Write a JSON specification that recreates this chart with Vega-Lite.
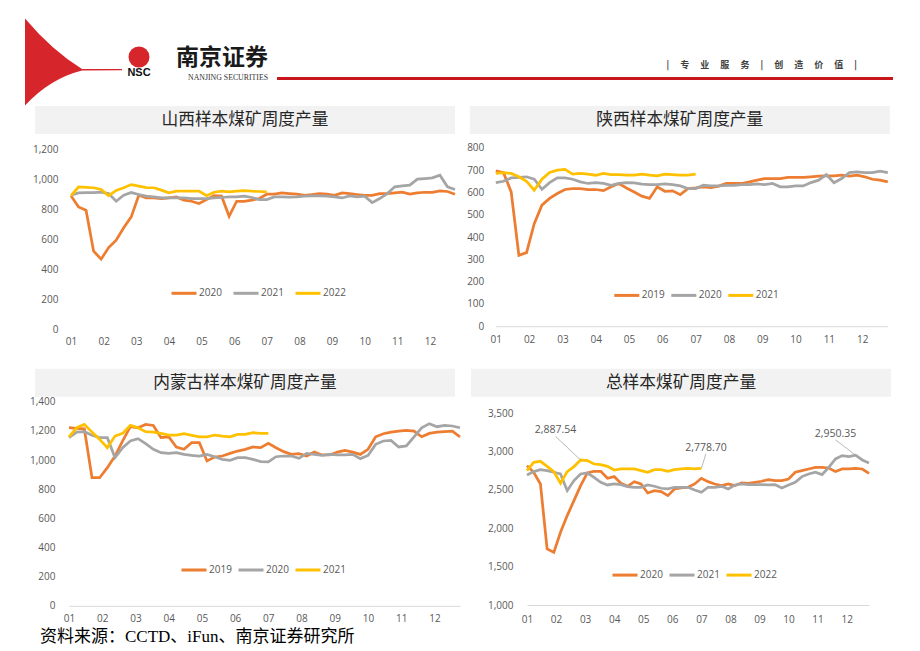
{
"$schema":"https://vega.github.io/schema/vega-lite/v6.json",
"background":"white",
"padding":{"left":25,"top":18,"right":5,"bottom":5},
"config":{
 "view":{"stroke":null},
 "font":"Open Sans",
 "axis":{"labelFont":"Open Sans","labelFontSize":10,"labelColor":"#595959","grid":false,"ticks":false,"tickSize":0,"domain":false},
 "axisX":{"domain":true,"domainColor":"#d9d9d9","domainWidth":1,"labelFlush":false,"labelOverlap":false},
 "legend":{"labelFont":"Open Sans","labelFontSize":10,"labelColor":"#595959","symbolType":"stroke","symbolStrokeWidth":3,"symbolSize":625,"labelOffset":1,"padding":0}
},
"datasets":{
"p1":[
{"w":1,"year":"2020","v":889},{"w":2,"year":"2020","v":815},{"w":3,"year":"2020","v":793},{"w":4,"year":"2020","v":520},{"w":5,"year":"2020","v":467},{"w":6,"year":"2020","v":544},{"w":7,"year":"2020","v":593},{"w":8,"year":"2020","v":676},{"w":9,"year":"2020","v":749},{"w":10,"year":"2020","v":893},{"w":11,"year":"2020","v":876},{"w":12,"year":"2020","v":876},{"w":13,"year":"2020","v":871},{"w":14,"year":"2020","v":876},{"w":15,"year":"2020","v":882},{"w":16,"year":"2020","v":860},{"w":17,"year":"2020","v":853},{"w":18,"year":"2020","v":838},{"w":19,"year":"2020","v":864},{"w":20,"year":"2020","v":891},{"w":21,"year":"2020","v":887},{"w":22,"year":"2020","v":753},{"w":23,"year":"2020","v":853},{"w":24,"year":"2020","v":853},{"w":25,"year":"2020","v":860},{"w":26,"year":"2020","v":871},{"w":27,"year":"2020","v":900},{"w":28,"year":"2020","v":900},{"w":29,"year":"2020","v":909},{"w":30,"year":"2020","v":904},{"w":31,"year":"2020","v":900},{"w":32,"year":"2020","v":893},{"w":33,"year":"2020","v":898},{"w":34,"year":"2020","v":904},{"w":35,"year":"2020","v":900},{"w":36,"year":"2020","v":893},{"w":37,"year":"2020","v":909},{"w":38,"year":"2020","v":904},{"w":39,"year":"2020","v":898},{"w":40,"year":"2020","v":893},{"w":41,"year":"2020","v":893},{"w":42,"year":"2020","v":904},{"w":43,"year":"2020","v":904},{"w":44,"year":"2020","v":909},{"w":45,"year":"2020","v":913},{"w":46,"year":"2020","v":900},{"w":47,"year":"2020","v":909},{"w":48,"year":"2020","v":913},{"w":49,"year":"2020","v":913},{"w":50,"year":"2020","v":922},{"w":51,"year":"2020","v":918},{"w":52,"year":"2020","v":900},
{"w":1,"year":"2021","v":893},{"w":2,"year":"2021","v":909},{"w":3,"year":"2021","v":911},{"w":4,"year":"2021","v":911},{"w":5,"year":"2021","v":913},{"w":6,"year":"2021","v":904},{"w":7,"year":"2021","v":853},{"w":8,"year":"2021","v":893},{"w":9,"year":"2021","v":911},{"w":10,"year":"2021","v":898},{"w":11,"year":"2021","v":887},{"w":12,"year":"2021","v":882},{"w":13,"year":"2021","v":875},{"w":14,"year":"2021","v":875},{"w":15,"year":"2021","v":875},{"w":16,"year":"2021","v":875},{"w":17,"year":"2021","v":871},{"w":18,"year":"2021","v":871},{"w":19,"year":"2021","v":871},{"w":20,"year":"2021","v":875},{"w":21,"year":"2021","v":878},{"w":22,"year":"2021","v":882},{"w":23,"year":"2021","v":882},{"w":24,"year":"2021","v":887},{"w":25,"year":"2021","v":878},{"w":26,"year":"2021","v":864},{"w":27,"year":"2021","v":864},{"w":28,"year":"2021","v":882},{"w":29,"year":"2021","v":882},{"w":30,"year":"2021","v":880},{"w":31,"year":"2021","v":882},{"w":32,"year":"2021","v":887},{"w":33,"year":"2021","v":889},{"w":34,"year":"2021","v":889},{"w":35,"year":"2021","v":887},{"w":36,"year":"2021","v":882},{"w":37,"year":"2021","v":875},{"w":38,"year":"2021","v":889},{"w":39,"year":"2021","v":882},{"w":40,"year":"2021","v":887},{"w":41,"year":"2021","v":844},{"w":42,"year":"2021","v":871},{"w":43,"year":"2021","v":904},{"w":44,"year":"2021","v":949},{"w":45,"year":"2021","v":955},{"w":46,"year":"2021","v":960},{"w":47,"year":"2021","v":1000},{"w":48,"year":"2021","v":1004},{"w":49,"year":"2021","v":1009},{"w":50,"year":"2021","v":1027},{"w":51,"year":"2021","v":949},{"w":52,"year":"2021","v":931},
{"w":1,"year":"2022","v":890},{"w":2,"year":"2022","v":948},{"w":3,"year":"2022","v":946},{"w":4,"year":"2022","v":943},{"w":5,"year":"2022","v":932},{"w":6,"year":"2022","v":890},{"w":7,"year":"2022","v":925},{"w":8,"year":"2022","v":943},{"w":9,"year":"2022","v":964},{"w":10,"year":"2022","v":954},{"w":11,"year":"2022","v":944},{"w":12,"year":"2022","v":943},{"w":13,"year":"2022","v":927},{"w":14,"year":"2022","v":909},{"w":15,"year":"2022","v":921},{"w":16,"year":"2022","v":921},{"w":17,"year":"2022","v":921},{"w":18,"year":"2022","v":921},{"w":19,"year":"2022","v":890},{"w":20,"year":"2022","v":913},{"w":21,"year":"2022","v":921},{"w":22,"year":"2022","v":916},{"w":23,"year":"2022","v":921},{"w":24,"year":"2022","v":924},{"w":25,"year":"2022","v":920},{"w":26,"year":"2022","v":918},{"w":27,"year":"2022","v":916}
],
"p2":[
{"w":1,"year":"2019","v":697},{"w":2,"year":"2019","v":688},{"w":3,"year":"2019","v":602},{"w":4,"year":"2019","v":318},{"w":5,"year":"2019","v":330},{"w":6,"year":"2019","v":460},{"w":7,"year":"2019","v":543},{"w":8,"year":"2019","v":573},{"w":9,"year":"2019","v":595},{"w":10,"year":"2019","v":613},{"w":11,"year":"2019","v":617},{"w":12,"year":"2019","v":617},{"w":13,"year":"2019","v":613},{"w":14,"year":"2019","v":613},{"w":15,"year":"2019","v":608},{"w":16,"year":"2019","v":625},{"w":17,"year":"2019","v":640},{"w":18,"year":"2019","v":620},{"w":19,"year":"2019","v":602},{"w":20,"year":"2019","v":583},{"w":21,"year":"2019","v":573},{"w":22,"year":"2019","v":625},{"w":23,"year":"2019","v":605},{"w":24,"year":"2019","v":607},{"w":25,"year":"2019","v":590},{"w":26,"year":"2019","v":617},{"w":27,"year":"2019","v":620},{"w":28,"year":"2019","v":625},{"w":29,"year":"2019","v":622},{"w":30,"year":"2019","v":628},{"w":31,"year":"2019","v":640},{"w":32,"year":"2019","v":640},{"w":33,"year":"2019","v":640},{"w":34,"year":"2019","v":647},{"w":35,"year":"2019","v":655},{"w":36,"year":"2019","v":662},{"w":37,"year":"2019","v":662},{"w":38,"year":"2019","v":662},{"w":39,"year":"2019","v":667},{"w":40,"year":"2019","v":667},{"w":41,"year":"2019","v":667},{"w":42,"year":"2019","v":670},{"w":43,"year":"2019","v":673},{"w":44,"year":"2019","v":674},{"w":45,"year":"2019","v":674},{"w":46,"year":"2019","v":677},{"w":47,"year":"2019","v":673},{"w":48,"year":"2019","v":677},{"w":49,"year":"2019","v":670},{"w":50,"year":"2019","v":659},{"w":51,"year":"2019","v":655},{"w":52,"year":"2019","v":647},
{"w":1,"year":"2020","v":644},{"w":2,"year":"2020","v":650},{"w":3,"year":"2020","v":665},{"w":4,"year":"2020","v":667},{"w":5,"year":"2020","v":670},{"w":6,"year":"2020","v":659},{"w":7,"year":"2020","v":614},{"w":8,"year":"2020","v":644},{"w":9,"year":"2020","v":665},{"w":10,"year":"2020","v":665},{"w":11,"year":"2020","v":659},{"w":12,"year":"2020","v":647},{"w":13,"year":"2020","v":640},{"w":14,"year":"2020","v":644},{"w":15,"year":"2020","v":640},{"w":16,"year":"2020","v":632},{"w":17,"year":"2020","v":640},{"w":18,"year":"2020","v":644},{"w":19,"year":"2020","v":643},{"w":20,"year":"2020","v":637},{"w":21,"year":"2020","v":635},{"w":22,"year":"2020","v":635},{"w":23,"year":"2020","v":638},{"w":24,"year":"2020","v":635},{"w":25,"year":"2020","v":629},{"w":26,"year":"2020","v":617},{"w":27,"year":"2020","v":617},{"w":28,"year":"2020","v":632},{"w":29,"year":"2020","v":629},{"w":30,"year":"2020","v":629},{"w":31,"year":"2020","v":632},{"w":32,"year":"2020","v":632},{"w":33,"year":"2020","v":635},{"w":34,"year":"2020","v":635},{"w":35,"year":"2020","v":638},{"w":36,"year":"2020","v":635},{"w":37,"year":"2020","v":640},{"w":38,"year":"2020","v":625},{"w":39,"year":"2020","v":625},{"w":40,"year":"2020","v":629},{"w":41,"year":"2020","v":629},{"w":42,"year":"2020","v":644},{"w":43,"year":"2020","v":655},{"w":44,"year":"2020","v":680},{"w":45,"year":"2020","v":643},{"w":46,"year":"2020","v":662},{"w":47,"year":"2020","v":689},{"w":48,"year":"2020","v":692},{"w":49,"year":"2020","v":689},{"w":50,"year":"2020","v":689},{"w":51,"year":"2020","v":695},{"w":52,"year":"2020","v":689},
{"w":1,"year":"2021","v":685},{"w":2,"year":"2021","v":689},{"w":3,"year":"2021","v":685},{"w":4,"year":"2021","v":670},{"w":5,"year":"2021","v":650},{"w":6,"year":"2021","v":610},{"w":7,"year":"2021","v":659},{"w":8,"year":"2021","v":689},{"w":9,"year":"2021","v":700},{"w":10,"year":"2021","v":703},{"w":11,"year":"2021","v":682},{"w":12,"year":"2021","v":685},{"w":13,"year":"2021","v":682},{"w":14,"year":"2021","v":677},{"w":15,"year":"2021","v":685},{"w":16,"year":"2021","v":680},{"w":17,"year":"2021","v":680},{"w":18,"year":"2021","v":677},{"w":19,"year":"2021","v":677},{"w":20,"year":"2021","v":682},{"w":21,"year":"2021","v":677},{"w":22,"year":"2021","v":674},{"w":23,"year":"2021","v":682},{"w":24,"year":"2021","v":680},{"w":25,"year":"2021","v":677},{"w":26,"year":"2021","v":677},{"w":27,"year":"2021","v":682}
],
"p3":[
{"w":1,"year":"2019","v":1222},{"w":2,"year":"2019","v":1218},{"w":3,"year":"2019","v":1215},{"w":4,"year":"2019","v":879},{"w":5,"year":"2019","v":879},{"w":6,"year":"2019","v":948},{"w":7,"year":"2019","v":1028},{"w":8,"year":"2019","v":1131},{"w":9,"year":"2019","v":1229},{"w":10,"year":"2019","v":1222},{"w":11,"year":"2019","v":1245},{"w":12,"year":"2019","v":1238},{"w":13,"year":"2019","v":1154},{"w":14,"year":"2019","v":1160},{"w":15,"year":"2019","v":1090},{"w":16,"year":"2019","v":1074},{"w":17,"year":"2019","v":1119},{"w":18,"year":"2019","v":1119},{"w":19,"year":"2019","v":994},{"w":20,"year":"2019","v":1021},{"w":21,"year":"2019","v":1028},{"w":22,"year":"2019","v":1046},{"w":23,"year":"2019","v":1062},{"w":24,"year":"2019","v":1074},{"w":25,"year":"2019","v":1090},{"w":26,"year":"2019","v":1085},{"w":27,"year":"2019","v":1115},{"w":28,"year":"2019","v":1085},{"w":29,"year":"2019","v":1058},{"w":30,"year":"2019","v":1039},{"w":31,"year":"2019","v":1044},{"w":32,"year":"2019","v":1028},{"w":33,"year":"2019","v":1055},{"w":34,"year":"2019","v":1035},{"w":35,"year":"2019","v":1035},{"w":36,"year":"2019","v":1055},{"w":37,"year":"2019","v":1067},{"w":38,"year":"2019","v":1055},{"w":39,"year":"2019","v":1039},{"w":40,"year":"2019","v":1074},{"w":41,"year":"2019","v":1160},{"w":42,"year":"2019","v":1181},{"w":43,"year":"2019","v":1192},{"w":44,"year":"2019","v":1199},{"w":45,"year":"2019","v":1204},{"w":46,"year":"2019","v":1199},{"w":47,"year":"2019","v":1160},{"w":48,"year":"2019","v":1183},{"w":49,"year":"2019","v":1192},{"w":50,"year":"2019","v":1195},{"w":51,"year":"2019","v":1199},{"w":52,"year":"2019","v":1160},
{"w":1,"year":"2020","v":1154},{"w":2,"year":"2020","v":1192},{"w":3,"year":"2020","v":1195},{"w":4,"year":"2020","v":1170},{"w":5,"year":"2020","v":1154},{"w":6,"year":"2020","v":1154},{"w":7,"year":"2020","v":1017},{"w":8,"year":"2020","v":1085},{"w":9,"year":"2020","v":1131},{"w":10,"year":"2020","v":1147},{"w":11,"year":"2020","v":1113},{"w":12,"year":"2020","v":1074},{"w":13,"year":"2020","v":1051},{"w":14,"year":"2020","v":1046},{"w":15,"year":"2020","v":1051},{"w":16,"year":"2020","v":1039},{"w":17,"year":"2020","v":1032},{"w":18,"year":"2020","v":1028},{"w":19,"year":"2020","v":1039},{"w":20,"year":"2020","v":1023},{"w":21,"year":"2020","v":1005},{"w":22,"year":"2020","v":998},{"w":23,"year":"2020","v":1017},{"w":24,"year":"2020","v":1017},{"w":25,"year":"2020","v":1005},{"w":26,"year":"2020","v":989},{"w":27,"year":"2020","v":987},{"w":28,"year":"2020","v":1023},{"w":29,"year":"2020","v":1028},{"w":30,"year":"2020","v":1028},{"w":31,"year":"2020","v":1012},{"w":32,"year":"2020","v":1046},{"w":33,"year":"2020","v":1039},{"w":34,"year":"2020","v":1032},{"w":35,"year":"2020","v":1039},{"w":36,"year":"2020","v":1035},{"w":37,"year":"2020","v":1035},{"w":38,"year":"2020","v":1039},{"w":39,"year":"2020","v":1010},{"w":40,"year":"2020","v":1032},{"w":41,"year":"2020","v":1108},{"w":42,"year":"2020","v":1131},{"w":43,"year":"2020","v":1135},{"w":44,"year":"2020","v":1090},{"w":45,"year":"2020","v":1097},{"w":46,"year":"2020","v":1160},{"w":47,"year":"2020","v":1222},{"w":48,"year":"2020","v":1250},{"w":49,"year":"2020","v":1229},{"w":50,"year":"2020","v":1238},{"w":51,"year":"2020","v":1234},{"w":52,"year":"2020","v":1222},
{"w":1,"year":"2021","v":1160},{"w":2,"year":"2021","v":1222},{"w":3,"year":"2021","v":1245},{"w":4,"year":"2021","v":1192},{"w":5,"year":"2021","v":1142},{"w":6,"year":"2021","v":1085},{"w":7,"year":"2021","v":1165},{"w":8,"year":"2021","v":1183},{"w":9,"year":"2021","v":1238},{"w":10,"year":"2021","v":1222},{"w":11,"year":"2021","v":1195},{"w":12,"year":"2021","v":1192},{"w":13,"year":"2021","v":1183},{"w":14,"year":"2021","v":1172},{"w":15,"year":"2021","v":1172},{"w":16,"year":"2021","v":1181},{"w":17,"year":"2021","v":1170},{"w":18,"year":"2021","v":1160},{"w":19,"year":"2021","v":1160},{"w":20,"year":"2021","v":1172},{"w":21,"year":"2021","v":1165},{"w":22,"year":"2021","v":1160},{"w":23,"year":"2021","v":1176},{"w":24,"year":"2021","v":1176},{"w":25,"year":"2021","v":1188},{"w":26,"year":"2021","v":1183},{"w":27,"year":"2021","v":1183}
],
"p4":[
{"w":1,"year":"2020","v":2815},{"w":2,"year":"2020","v":2728},{"w":3,"year":"2020","v":2576},{"w":4,"year":"2020","v":1730},{"w":5,"year":"2020","v":1686},{"w":6,"year":"2020","v":1947},{"w":7,"year":"2020","v":2164},{"w":8,"year":"2020","v":2359},{"w":9,"year":"2020","v":2554},{"w":10,"year":"2020","v":2719},{"w":11,"year":"2020","v":2741},{"w":12,"year":"2020","v":2741},{"w":13,"year":"2020","v":2650},{"w":14,"year":"2020","v":2672},{"w":15,"year":"2020","v":2585},{"w":16,"year":"2020","v":2546},{"w":17,"year":"2020","v":2606},{"w":18,"year":"2020","v":2576},{"w":19,"year":"2020","v":2459},{"w":20,"year":"2020","v":2489},{"w":21,"year":"2020","v":2476},{"w":22,"year":"2020","v":2424},{"w":23,"year":"2020","v":2511},{"w":24,"year":"2020","v":2524},{"w":25,"year":"2020","v":2533},{"w":26,"year":"2020","v":2576},{"w":27,"year":"2020","v":2650},{"w":28,"year":"2020","v":2606},{"w":29,"year":"2020","v":2576},{"w":30,"year":"2020","v":2554},{"w":31,"year":"2020","v":2576},{"w":32,"year":"2020","v":2554},{"w":33,"year":"2020","v":2589},{"w":34,"year":"2020","v":2585},{"w":35,"year":"2020","v":2598},{"w":36,"year":"2020","v":2611},{"w":37,"year":"2020","v":2633},{"w":38,"year":"2020","v":2620},{"w":39,"year":"2020","v":2620},{"w":40,"year":"2020","v":2641},{"w":41,"year":"2020","v":2728},{"w":42,"year":"2020","v":2750},{"w":43,"year":"2020","v":2771},{"w":44,"year":"2020","v":2793},{"w":45,"year":"2020","v":2793},{"w":46,"year":"2020","v":2784},{"w":47,"year":"2020","v":2737},{"w":48,"year":"2020","v":2771},{"w":49,"year":"2020","v":2771},{"w":50,"year":"2020","v":2780},{"w":51,"year":"2020","v":2771},{"w":52,"year":"2020","v":2715},
{"w":1,"year":"2021","v":2693},{"w":2,"year":"2021","v":2737},{"w":3,"year":"2021","v":2763},{"w":4,"year":"2021","v":2750},{"w":5,"year":"2021","v":2728},{"w":6,"year":"2021","v":2706},{"w":7,"year":"2021","v":2489},{"w":8,"year":"2021","v":2620},{"w":9,"year":"2021","v":2706},{"w":10,"year":"2021","v":2719},{"w":11,"year":"2021","v":2663},{"w":12,"year":"2021","v":2598},{"w":13,"year":"2021","v":2563},{"w":14,"year":"2021","v":2576},{"w":15,"year":"2021","v":2567},{"w":16,"year":"2021","v":2541},{"w":17,"year":"2021","v":2533},{"w":18,"year":"2021","v":2533},{"w":19,"year":"2021","v":2563},{"w":20,"year":"2021","v":2546},{"w":21,"year":"2021","v":2520},{"w":22,"year":"2021","v":2511},{"w":23,"year":"2021","v":2533},{"w":24,"year":"2021","v":2533},{"w":25,"year":"2021","v":2533},{"w":26,"year":"2021","v":2498},{"w":27,"year":"2021","v":2468},{"w":28,"year":"2021","v":2533},{"w":29,"year":"2021","v":2533},{"w":30,"year":"2021","v":2546},{"w":31,"year":"2021","v":2511},{"w":32,"year":"2021","v":2563},{"w":33,"year":"2021","v":2576},{"w":34,"year":"2021","v":2567},{"w":35,"year":"2021","v":2567},{"w":36,"year":"2021","v":2567},{"w":37,"year":"2021","v":2563},{"w":38,"year":"2021","v":2567},{"w":39,"year":"2021","v":2524},{"w":40,"year":"2021","v":2563},{"w":41,"year":"2021","v":2598},{"w":42,"year":"2021","v":2672},{"w":43,"year":"2021","v":2706},{"w":44,"year":"2021","v":2728},{"w":45,"year":"2021","v":2698},{"w":46,"year":"2021","v":2793},{"w":47,"year":"2021","v":2902},{"w":48,"year":"2021","v":2945},{"w":49,"year":"2021","v":2932},{"w":50,"year":"2021","v":2950.35},{"w":51,"year":"2021","v":2889},{"w":52,"year":"2021","v":2850},
{"w":1,"year":"2022","v":2750},{"w":2,"year":"2022","v":2858},{"w":3,"year":"2022","v":2871},{"w":4,"year":"2022","v":2806},{"w":5,"year":"2022","v":2737},{"w":6,"year":"2022","v":2585},{"w":7,"year":"2022","v":2737},{"w":8,"year":"2022","v":2802},{"w":9,"year":"2022","v":2887.54},{"w":10,"year":"2022","v":2880},{"w":11,"year":"2022","v":2836},{"w":12,"year":"2022","v":2828},{"w":13,"year":"2022","v":2806},{"w":14,"year":"2022","v":2758},{"w":15,"year":"2022","v":2771},{"w":16,"year":"2022","v":2771},{"w":17,"year":"2022","v":2771},{"w":18,"year":"2022","v":2750},{"w":19,"year":"2022","v":2728},{"w":20,"year":"2022","v":2763},{"w":21,"year":"2022","v":2763},{"w":22,"year":"2022","v":2741},{"w":23,"year":"2022","v":2763},{"w":24,"year":"2022","v":2771},{"w":25,"year":"2022","v":2780},{"w":26,"year":"2022","v":2771},{"w":27,"year":"2022","v":2778.70}
],
"ann":[
{"w":9,"v":2887.54,"lw":5.25,"lv":3196,"label":"2,887.54"},
{"w":27,"v":2778.70,"lw":27.68,"lv":2968,"label":"2,778.70"},
{"w":50,"v":2950.35,"lw":47.0,"lv":3151,"label":"2,950.35"}
]
},
"resolve":{"scale":{"color":"independent"}},
"spacing":-5.5,
"vconcat":[
{
 "hconcat":[
  {
   "width":233,"height":3,
   "data":{"values":[{"t":"NSC"}]},
   "title":{"text":"南京证券","subtitle":"NANJING SECURITIES","anchor":"end","orient":"top","offset":-63,"font":"Noto Sans CJK SC","fontSize":23,"fontWeight":"bold","color":"#1a1a1a","subtitleFont":"Liberation Serif","subtitleFontSize":7.8,"subtitleColor":"#333333","subtitlePadding":4},
   "layer":[
    {"mark":{"type":"point","shape":"M-0.97,-0.87 Q-0.43,-0.23 0.17,0.14 L0.97,0.14 L0.97,0.165 L0.17,0.17 Q-0.47,0.33 -0.97,0.87 Z","filled":true,"color":"#d7262b","opacity":1,"strokeWidth":0,"size":10000,"xOffset":-78,"yOffset":-16.5},"encoding":{}},
    {"mark":{"type":"point","shape":"circle","filled":true,"color":"#d7262b","opacity":1,"size":441,"xOffset":-12.5,"yOffset":-21.5},"encoding":{}},
    {"mark":{"type":"text","font":"Liberation Sans","fontSize":11,"fontWeight":"bold","color":"#111111","dx":-12.5,"dy":-5.5},"encoding":{"text":{"field":"t"}}}
   ]
  },
  {
   "width":616,"height":3,
   "view":{"fill":"#c8161d","stroke":null},
   "data":{"values":[{"t":""}]},
   "mark":{"type":"text","fontSize":1},
   "encoding":{"text":{"field":"t"}},
   "title":{"text":"|　 专　 业　 服　 务　 |　 创　 造　 价　 值　 |","anchor":"end","orient":"top","offset":7.5,"dx":-36,"font":"Noto Sans CJK SC","fontSize":9,"fontWeight":"bold","color":"#404040"}
  }
 ],
 "spacing":9
},
{
 "resolve":{"scale":{"color":"independent"}},
 "spacing":21.8,
 "vconcat":[
  {
   "resolve":{"scale":{"color":"independent"}},
   "spacing":4.8,
   "hconcat":[
    {
     "spacing":10.2,
     "vconcat":[
      {"width":420,"height":28,"view":{"fill":"#f2f2f2","stroke":null},"data":{"values":[{"t":"山西样本煤矿周度产量"}]},"mark":{"type":"text","font":"Noto Sans CJK SC","fontSize":16.7,"color":"#262626"},"encoding":{"text":{"field":"t"}}},
      {"width":420,"height":180,"data":{"name":"p1"},
       "mark":{"type":"line","strokeWidth":2.75},
       "encoding":{
        "x":{"field":"w","type":"quantitative","scale":{"domain":[1,52],"range":[36,420],"nice":false,"zero":false},"axis":{"title":null,"domain":false,"values":[1,5.3333,9.6667,14,18.3333,22.6667,27,31.3333,35.6667,40,44.3333,48.6667],"labelExpr":"['01','02','03','04','05','06','07','08','09','10','11','12'][round((datum.value-1)/4.3333)]","labelPadding":7.5}},
        "y":{"field":"v","type":"quantitative","scale":{"domain":[0,1200],"nice":false},"axis":{"title":null,"offset":-36,"values":[0,200,400,600,800,1000,1200],"format":",.0f","labelPadding":13}},
        "color":{"field":"year","type":"nominal","scale":{"domain":["2020","2021","2022"],"range":["#ED7D31","#A5A5A5","#FFC000"]},"legend":{"title":null,"orient":"none","direction":"horizontal","legendX":135,"legendY":173.3,"columnPadding":5}}
       }
      }
     ]
    },
    {
     "spacing":8.8,
     "vconcat":[
      {"width":420,"height":28,"view":{"fill":"#f2f2f2","stroke":null},"data":{"values":[{"t":"陕西样本煤矿周度产量"}]},"mark":{"type":"text","font":"Noto Sans CJK SC","fontSize":16.7,"color":"#262626"},"encoding":{"text":{"field":"t"}}},
      {"width":418,"height":178.4,"data":{"name":"p2"},
       "mark":{"type":"line","strokeWidth":2.75},
       "encoding":{
        "x":{"field":"w","type":"quantitative","scale":{"domain":[1,52],"range":[26,418],"nice":false,"zero":false},"axis":{"title":null,"values":[1,5.3333,9.6667,14,18.3333,22.6667,27,31.3333,35.6667,40,44.3333,48.6667],"labelExpr":"['01','02','03','04','05','06','07','08','09','10','11','12'][round((datum.value-1)/4.3333)]","labelPadding":8.5}},
        "y":{"field":"v","type":"quantitative","scale":{"domain":[0,800],"nice":false},"axis":{"title":null,"offset":-26,"values":[0,100,200,300,400,500,600,700,800],"format":",.0f","labelPadding":12}},
        "color":{"field":"year","type":"nominal","scale":{"domain":["2019","2020","2021"],"range":["#ED7D31","#A5A5A5","#FFC000"]},"legend":{"title":null,"orient":"none","direction":"horizontal","legendX":143,"legendY":175.4,"columnPadding":0}}
       }
      }
     ]
    }
   ]
  },
  {
   "resolve":{"scale":{"color":"independent"}},
   "spacing":5,
   "hconcat":[
    {
     "spacing":0,
     "vconcat":[
      {"width":420,"height":28,"view":{"fill":"#f2f2f2","stroke":null},"data":{"values":[{"t":"内蒙古样本煤矿周度产量"}]},"mark":{"type":"text","font":"Noto Sans CJK SC","fontSize":16.7,"color":"#262626"},"encoding":{"text":{"field":"t"}}},
      {"width":425,"height":204,"data":{"name":"p3"},
       "title":{"text":"资料来源：CCTD、iFun、南京证券研究所","orient":"bottom","anchor":"start","frame":"group","offset":5,"dx":5,"font":"Liberation Serif, Noto Sans CJK SC","fontSize":17,"fontWeight":"normal","color":"#000000"},
       "mark":{"type":"line","strokeWidth":2.75},
       "encoding":{
        "x":{"field":"w","type":"quantitative","scale":{"domain":[1,52],"range":[34,425],"nice":false,"zero":false},"axis":{"title":null,"values":[1,5.3333,9.6667,14,18.3333,22.6667,27,31.3333,35.6667,40,44.3333,48.6667],"labelExpr":"['01','02','03','04','05','06','07','08','09','10','11','12'][round((datum.value-1)/4.3333)]","labelPadding":8}},
        "y":{"field":"v","type":"quantitative","scale":{"domain":[0,1400],"nice":false},"axis":{"title":null,"offset":-34,"values":[0,200,400,600,800,1000,1200,1400],"format":",.0f","labelPadding":14}},
        "color":{"field":"year","type":"nominal","scale":{"domain":["2019","2020","2021"],"range":["#ED7D31","#A5A5A5","#FFC000"]},"legend":{"title":null,"orient":"none","direction":"horizontal","legendX":145,"legendY":187.2,"columnPadding":0}}
       }
      }
     ]
    },
    {
     "spacing":11.2,
     "vconcat":[
      {"width":420,"height":28,"view":{"fill":"#f2f2f2","stroke":null},"data":{"values":[{"t":"总样本煤矿周度产量"}]},"mark":{"type":"text","font":"Noto Sans CJK SC","fontSize":16.7,"color":"#262626"},"encoding":{"text":{"field":"t"}}},
      {"width":398,"height":192,
       "encoding":{
        "x":{"field":"w","type":"quantitative","scale":{"domain":[1,52],"range":[56,398],"nice":false,"zero":false},"axis":{"title":null,"values":[1,5.3333,9.6667,14,18.3333,22.6667,27,31.3333,35.6667,40,44.3333,48.6667],"labelExpr":"['01','02','03','04','05','06','07','08','09','10','11','12'][round((datum.value-1)/4.3333)]","labelPadding":9}},
        "y":{"field":"v","type":"quantitative","scale":{"domain":[1000,3500],"nice":false,"zero":false},"axis":{"title":null,"offset":-56,"values":[1000,1500,2000,2500,3000,3500],"format":",.0f","labelPadding":14}}
       },
       "layer":[
        {"data":{"name":"p4"},"mark":{"type":"line","strokeWidth":2.75},
         "encoding":{"color":{"field":"year","type":"nominal","scale":{"domain":["2020","2021","2022"],"range":["#ED7D31","#A5A5A5","#FFC000"]},"legend":{"title":null,"orient":"none","direction":"horizontal","legendX":140,"legendY":192.3,"columnPadding":0}}}},
        {"data":{"name":"ann"},"mark":{"type":"rule","stroke":"#a6a6a6","strokeWidth":0.8},
         "encoding":{"x2":{"field":"lw"},"y2":{"field":"lv"}}},
        {"data":{"name":"ann"},"mark":{"type":"text","baseline":"bottom","align":"center","font":"Open Sans","fontSize":10.5,"color":"#595959","dy":-1},
         "encoding":{"x":{"field":"lw","type":"quantitative"},"y":{"field":"lv","type":"quantitative"},"text":{"field":"label"}}}
       ]
      }
     ]
    }
   ]
  }
 ]
}
]
}
